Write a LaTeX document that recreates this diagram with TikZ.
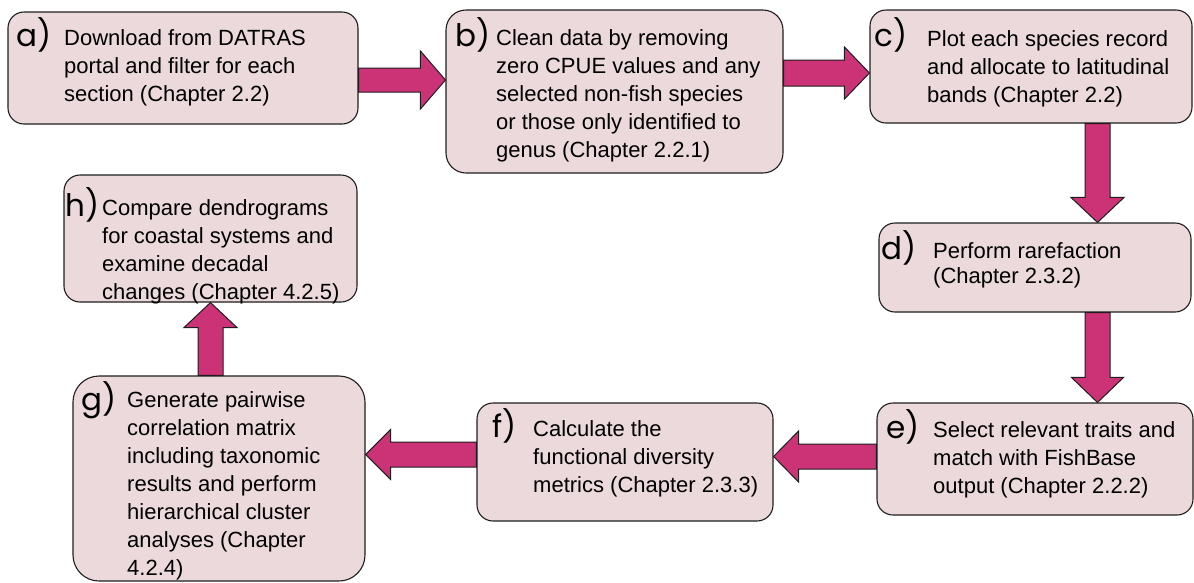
\documentclass[tikz,border=0pt]{standalone}
\usepackage{fontspec}
\setmainfont{Liberation Sans}
\newfontfamily\labfont{Poppins}
\usetikzlibrary{calc}
\definecolor{boxfill}{RGB}{235,217,219}
\definecolor{arrowfill}{RGB}{204,50,118}
\definecolor{edge}{RGB}{30,30,30}
\tikzset{
  box/.style={draw=edge, fill=boxfill, line width=1.1pt, rounded corners=16pt, inner sep=0pt},
  lab/.style={anchor=base west, inner sep=0pt, font=\labfont\fontsize{31}{32}\selectfont},
  txt/.style={anchor=north west, inner sep=0pt, align=left, font=\fontsize{22}{28}\selectfont},
  fat/.style={draw=edge, fill=arrowfill, line width=1pt, line join=miter}
}
\newcommand\fatarrow[4]{% start, tip, shaft half width, head half width
  \coordinate (fa-h) at ($(#2)!25pt!(#1)$);
  \draw[fat] ($(#1)!#3!90:(#2)$) -- ($(fa-h)!#3!90:(#2)$) -- ($(fa-h)!#4!90:(#2)$) -- (#2)
    -- ($(fa-h)!#4!-90:(#2)$) -- ($(fa-h)!#3!-90:(#2)$) -- ($(#1)!#3!-90:(#2)$) -- cycle;}
\begin{document}
\begin{tikzpicture}[x=1pt, y=-1pt]
\useasboundingbox (0,0) rectangle (1194,582);
% boxes
\node[box, minimum width=350pt, minimum height=112pt] (a) at (183,68) {};
\node[box, rounded corners=20pt, minimum width=337pt, minimum height=163pt] (b) at (614.5,91.5) {};
\node[box, minimum width=322pt, minimum height=113pt] (c) at (1031,66.5) {};
\node[box, minimum width=312pt, minimum height=89pt] (d) at (1035,267.5) {};
\node[box, minimum width=316pt, minimum height=112pt] (e) at (1035,459) {};
\node[box, minimum width=296pt, minimum height=118pt] (f) at (625,462) {};
\node[box, rounded corners=26pt, minimum width=292pt, minimum height=205pt] (g) at (219,478.5) {};
\node[box, minimum width=293pt, minimum height=127pt] (h) at (210.5,238.5) {};
% labels
\node[lab] (la) at (16,46) {a)};
\node[lab] (lb) at (455,46) {b)};
\node[lab] (lc) at (874,46) {c)};
\node[lab] (ld) at (881,259) {d)};
\node[lab] (le) at (886,438) {e)};
\node[lab] (lf) at (492,437) {f)};
\node[lab] (lg) at (81,410) {g)};
\node[lab] (lh) at (65,216) {h)};
% texts
\node[txt] (ta) at (64,25.4) {\strut Download from DATRAS\\portal and filter for each\\section (Chapter 2.2)};
\node[txt] (tb) at (496,25.4) {\strut Clean data by removing\\zero CPUE values and any\\selected non-fish species\\or those only identified to\\genus (Chapter 2.2.1)};
\node[txt] (tc) at (927,26.4) {\strut Plot each species record\\and allocate to latitudinal\\bands (Chapter 2.2)};
\node[txt, font=\fontsize{22}{25}\selectfont] (td) at (933,240.5) {\strut Perform rarefaction\\(Chapter 2.3.2)};
\node[txt] (te) at (933,417.4) {\strut Select relevant traits and\\match with FishBase\\output (Chapter 2.2.2)};
\node[txt] (tf) at (533,416.4) {\strut Calculate the\\functional diversity\\metrics (Chapter 2.3.3)};
\node[txt] (tg) at (127,387.4) {\strut Generate pairwise\\correlation matrix\\including taxonomic\\results and perform\\hierarchical cluster\\analyses (Chapter\\4.2.4)};
\node[txt] (th) at (102,195.4) {\strut Compare dendrograms\\for coastal systems and\\examine decadal\\changes (Chapter 4.2.5)};
% arrows
\coordinate (ab1) at ($(a.east)+(0,12)$);
\coordinate (ab2) at (ab1 -| b.west);
\fatarrow{ab1}{ab2}{12pt}{29pt}
\coordinate (bc1) at ($(b.east)+(0,-18.5)$);
\coordinate (bc2) at (bc1 -| c.west);
\fatarrow{bc1}{bc2}{13pt}{26pt}
\coordinate (cd1) at ($(c.south)+(66.5,0)$);
\coordinate (cd2) at (cd1 |- d.north);
\fatarrow{cd1}{cd2}{12.5pt}{26.5pt}
\coordinate (de1) at (cd1 |- d.south);
\coordinate (de2) at (de1 |- e.north);
\fatarrow{de1}{de2}{12.5pt}{26pt}
\coordinate (ef1) at ($(e.west)+(0,-2.5)$);
\coordinate (ef2) at (ef1 -| f.east);
\fatarrow{ef1}{ef2}{12.5pt}{25.5pt}
\coordinate (fg1) at ($(f.west)+(0,-7.5)$);
\coordinate (fg2) at (fg1 -| g.east);
\fatarrow{fg1}{fg2}{12.5pt}{25pt}
\coordinate (gh1) at ($(g.north)+(-8.5,0)$);
\coordinate (gh2) at (gh1 |- h.south);
\fatarrow{gh1}{gh2}{12.5pt}{26.5pt}
\end{tikzpicture}
\end{document}
